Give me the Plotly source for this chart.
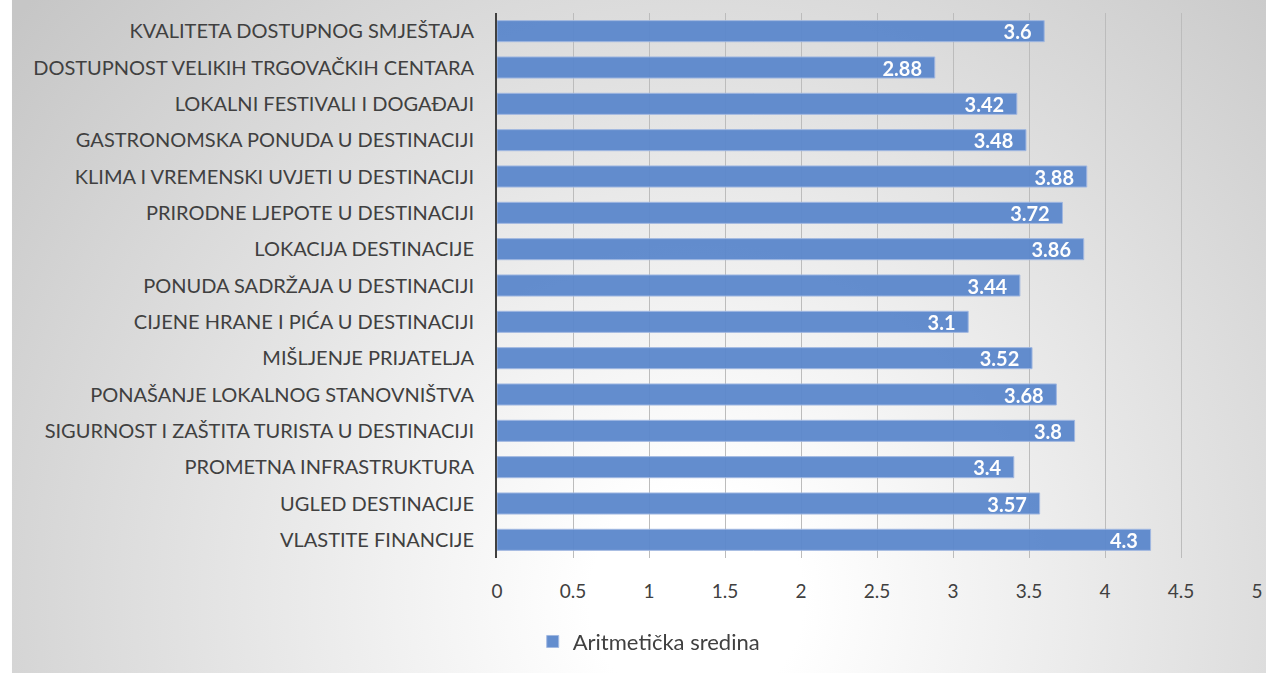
import base64

import plotly.graph_objects as go

categories = [
    "KVALITETA DOSTUPNOG SMJEŠTAJA",
    "DOSTUPNOST VELIKIH TRGOVAČKIH CENTARA",
    "LOKALNI FESTIVALI I DOGAĐAJI",
    "GASTRONOMSKA PONUDA U DESTINACIJI",
    "KLIMA I VREMENSKI UVJETI U DESTINACIJI",
    "PRIRODNE LJEPOTE U DESTINACIJI",
    "LOKACIJA DESTINACIJE",
    "PONUDA SADRŽAJA U DESTINACIJI",
    "CIJENE HRANE I PIĆA U DESTINACIJI",
    "MIŠLJENJE PRIJATELJA",
    "PONAŠANJE LOKALNOG STANOVNIŠTVA",
    "SIGURNOST I ZAŠTITA TURISTA U DESTINACIJI",
    "PROMETNA INFRASTRUKTURA",
    "UGLED DESTINACIJE",
    "VLASTITE FINANCIJE",
]
values = [3.6, 2.88, 3.42, 3.48, 3.88, 3.72, 3.86, 3.44, 3.1, 3.52, 3.68, 3.8, 3.4, 3.57, 4.3]
x_ticks = [0, 0.5, 1, 1.5, 2, 2.5, 3, 3.5, 4, 4.5, 5]
x_ticktext = ["0", "0.5", "1", "1.5", "2", "2.5", "3", "3.5", "4", "4.5", "5"]
series_name = "Aritmetička sredina"

W, H = 1266, 673
FONT = "Lato, Open Sans, sans-serif"
BAR_COLOR = "#5B87CC"

# radial grey gradient behind the chart (white strip of 8px on the left)
BG_X0, BG_W, BG_Y0, BG_H = 8, 1290, -10, 700
svg = (
    f'<svg xmlns="http://www.w3.org/2000/svg" width="{BG_W}" height="{BG_H}" '
    f'viewBox="0 0 {BG_W} {BG_H}" preserveAspectRatio="none">'
    '<defs><radialGradient id="g" gradientUnits="userSpaceOnUse" '
    'cx="690" cy="610" r="900">'
    '<stop offset="0" stop-color="#ffffff"/>'
    '<stop offset="0.12" stop-color="#ffffff"/>'
    '<stop offset="1" stop-color="#c6c6c6"/>'
    "</radialGradient></defs>"
    f'<rect width="{BG_W}" height="{BG_H}" fill="url(#g)"/></svg>'
)
bg_src = "data:image/svg+xml;base64," + base64.b64encode(svg.encode()).decode()

ml, mr, mt, mb = 497, 3, 13, 115
pw, ph = W - ml - mr, H - mt - mb

fig = go.Figure()
fig.add_trace(
    go.Bar(
        y=categories,
        x=values,
        orientation="h",
        name=series_name,
        marker=dict(color=BAR_COLOR, line=dict(color="#9db5e0", width=1)),
        opacity=0.95,
        text=[f"{v:g}\u00a0\u00a0" for v in values],
        textposition="inside",
        insidetextanchor="end",
        textfont=dict(family=FONT, size=20, color="white", weight="bold"),
        constraintext="none",
        cliponaxis=False,
        hovertemplate="%{y}: %{x}<extra></extra>",
    )
)

fig.add_layout_image(
    dict(
        source=bg_src,
        xref="paper",
        yref="paper",
        x=(BG_X0 - ml) / pw,
        y=1 + (mt - BG_Y0) / ph,
        sizex=BG_W / pw,
        sizey=BG_H / ph,
        xanchor="left",
        yanchor="top",
        sizing="stretch",
        layer="below",
    )
)

fig.update_layout(
    width=W,
    height=H,
    margin=dict(l=ml, r=mr, t=mt, b=mb),
    paper_bgcolor="white",
    plot_bgcolor="rgba(0,0,0,0)",
    bargap=0.42,
    showlegend=True,
    font=dict(family=FONT, size=20, color="#404040"),
    legend=dict(
        orientation="h",
        x=(533 - ml) / pw,
        xanchor="left",
        y=-0.115,
        yanchor="top",
        itemwidth=30,
        font=dict(size=22, color="#404040"),
        bgcolor="rgba(0,0,0,0)",
    ),
    xaxis=dict(
        range=[0, 5],
        tickvals=x_ticks,
        ticktext=x_ticktext,
        showgrid=True,
        gridcolor="#bcbcbc",
        gridwidth=1,
        zeroline=False,
        ticks="",
        ticklabelstandoff=20,
        ticklabeloverflow="allow",
        tickfont=dict(size=19, color="#404040"),
    ),
    yaxis=dict(
        autorange="reversed",
        showline=True,
        linecolor="#404040",
        linewidth=2,
        ticks="",
        ticklabelstandoff=17,
        tickfont=dict(size=20, color="#404040"),
    ),
)

fig.write_html(
    "out.html",
    config={"displayModeBar": False},
    post_script="document.body.style.margin='0';document.body.style.overflow='hidden';",
)
